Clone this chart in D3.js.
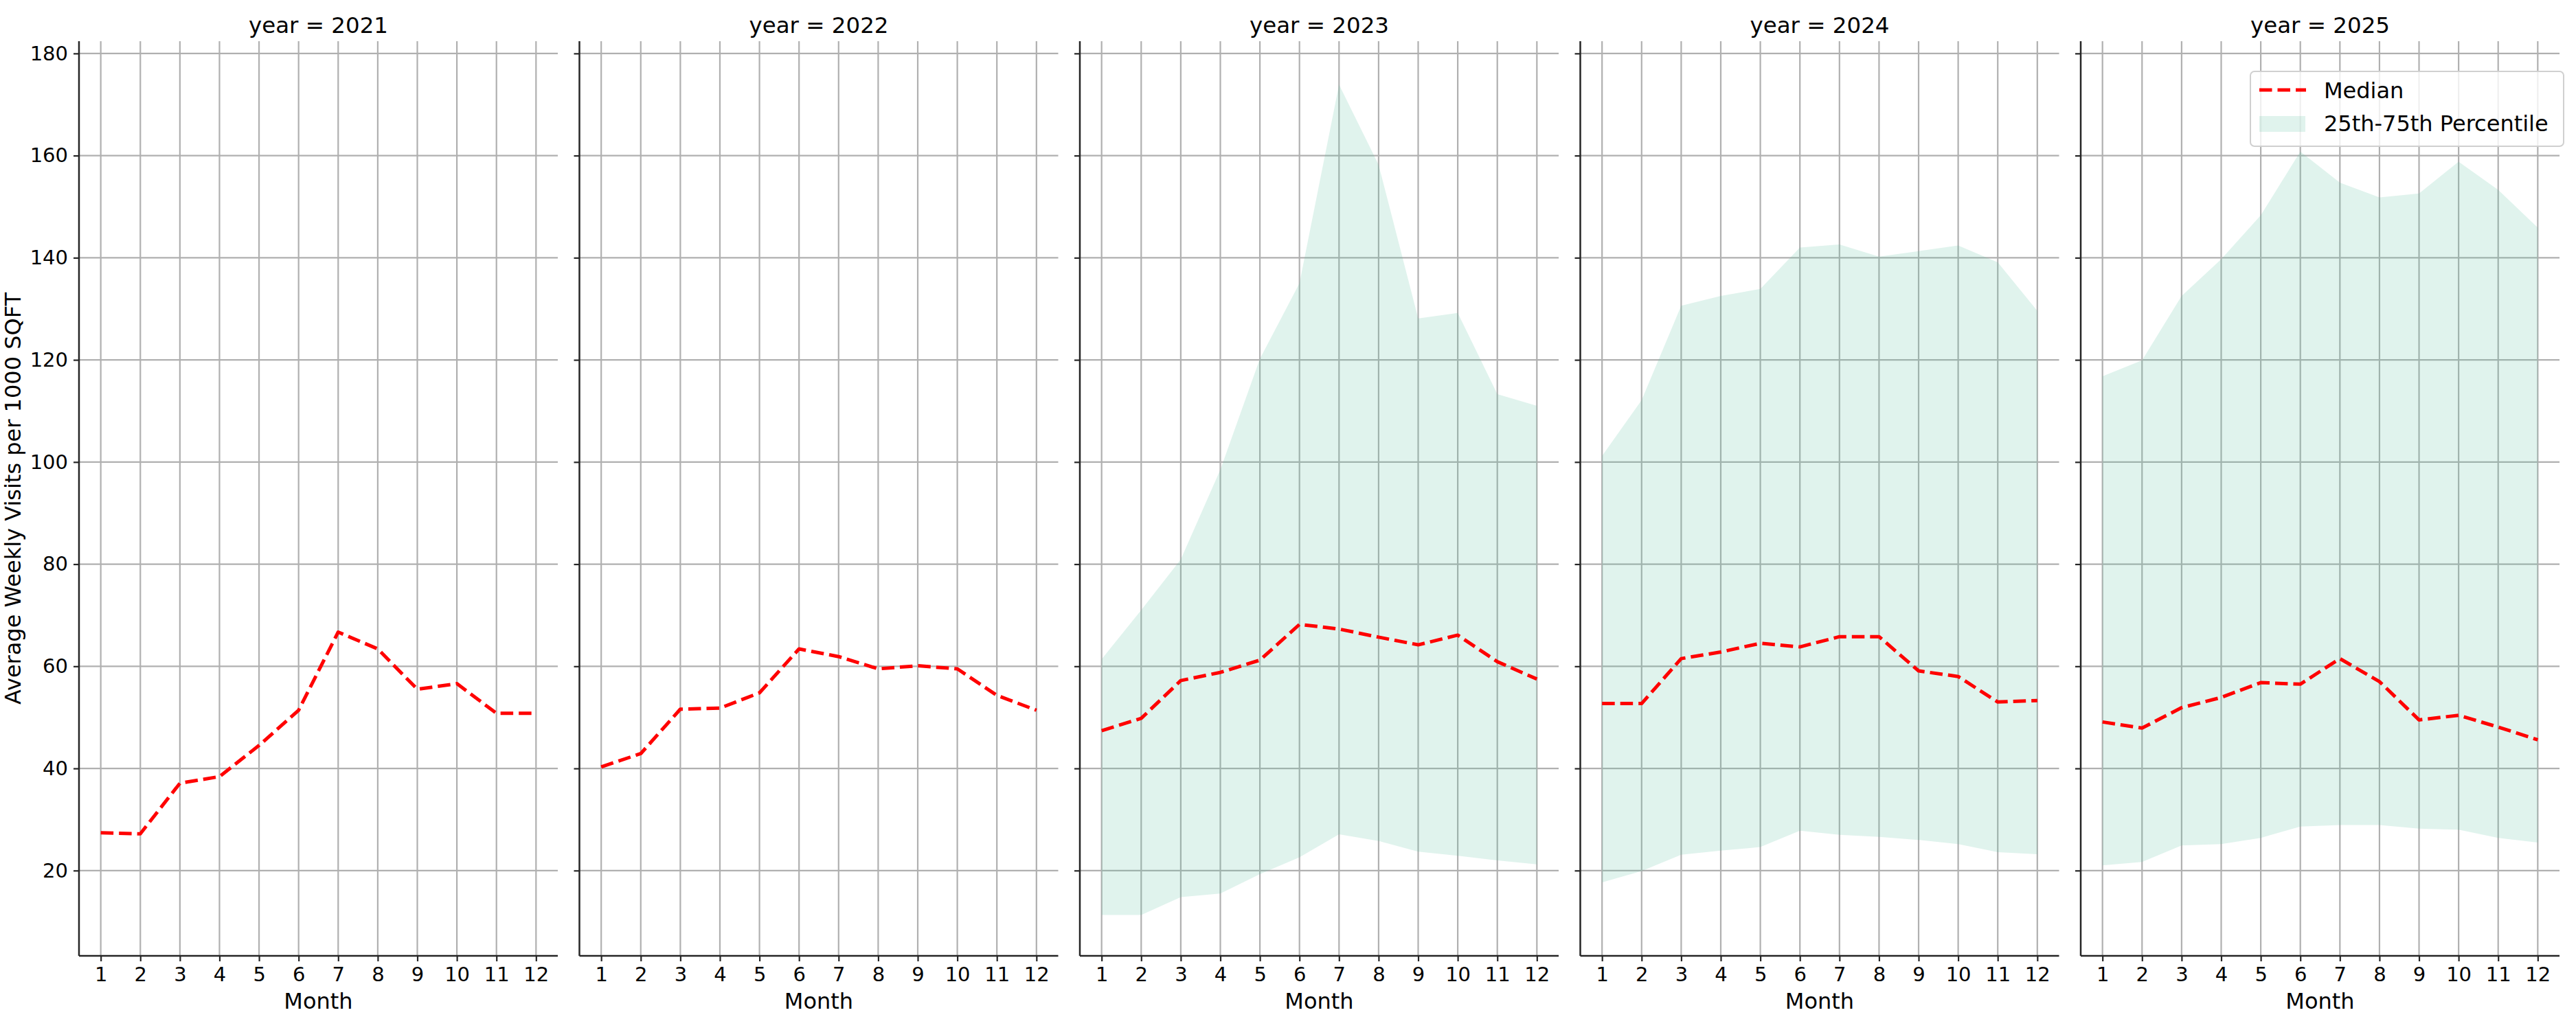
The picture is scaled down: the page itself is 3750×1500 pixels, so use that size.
<!DOCTYPE html>
<html>
<head>
<meta charset="utf-8">
<script src="https://cdn.jsdelivr.net/npm/d3@7"></script>
<style>
  html, body { margin: 0; padding: 0; background: #ffffff; }
  svg { display: block; font-family: "DejaVu Sans", sans-serif; }
</style>
</head>
<body>
<svg id="chart" width="3750" height="1500"></svg>
<script>
// ---------------- data ----------------
const years = [2021, 2022, 2023, 2024, 2025];
const months = [1, 2, 3, 4, 5, 6, 7, 8, 9, 10, 11, 12];
const yTicks = [20, 40, 60, 80, 100, 120, 140, 160, 180];

const median2021 = [27.4, 27.2, 37.1, 38.4, 44.5, 51.4, 66.7, 63.4, 55.5, 56.6, 50.8, 50.8];
const median2022 = [40.3, 42.9, 51.6, 51.8, 54.8, 63.4, 61.9, 59.5, 60.1, 59.5, 54.3, 51.4];
const median2023 = [47.4, 49.8, 57.2, 58.8, 61.2, 68.2, 67.3, 65.7, 64.2, 66.1, 60.9, 57.5];
const median2024 = [52.7, 52.7, 61.5, 62.8, 64.5, 63.8, 65.8, 65.8, 59.1, 58.0, 53.0, 53.3];
const median2025 = [49.1, 47.9, 51.9, 53.9, 56.8, 56.5, 61.5, 57.0, 49.5, 50.4, 48.1, 45.6];

const p25_2023 = [11.3, 11.3, 14.8, 15.5, 19.3, 22.6, 27.1, 25.8, 23.7, 22.9, 22.0, 21.2];
const p75_2023 = [61.4, 71.0, 80.9, 98.5, 120.2, 135.0, 173.9, 158.2, 128.1, 129.2, 113.3, 111.0];
const p25_2024 = [17.7, 19.9, 23.1, 23.9, 24.6, 27.8, 27.0, 26.6, 26.0, 25.2, 23.6, 23.2];
const p75_2024 = [101.2, 112.1, 130.6, 132.5, 133.9, 142.0, 142.6, 140.2, 141.3, 142.4, 139.1, 129.6];
const p25_2025 = [21.0, 21.7, 24.9, 25.2, 26.4, 28.6, 28.9, 28.9, 28.2, 28.0, 26.4, 25.5];
const p75_2025 = [116.8, 119.9, 132.5, 139.7, 148.3, 160.8, 154.7, 151.8, 152.6, 158.8, 153.3, 145.9];

const medians = [median2021, median2022, median2023, median2024, median2025];
const lowers  = [null, null, p25_2023, p25_2024, p25_2025];
const uppers  = [null, null, p75_2023, p75_2024, p75_2025];

const titleLabels = years.map(y => "year = " + y);
const xLabel = "Month";
const yLabel = "Average Weekly Visits per 1000 SQFT";
const legendLabels = ["Median", "25th-75th Percentile"];

// ---------------- layout ----------------
const svg = d3.select("#chart");
const panelLeft0 = 115, panelStep = 728.5, panelW = 697;
const plotTop = 60, plotBottom = 1392;

const yScale = d3.scaleLinear().domain([3.3, 182.4]).range([plotBottom, plotTop]);
const xScale = d3.scaleLinear().domain([0.45, 12.55]).range([0, panelW]);

const gridColor = "#b0b0b0";
const spineColor = "#262626";
const fillColor = "#66c2a5";
const tickFont = 29;
const labelFont = 32;
const titleFont = 32.5;

years.forEach((yr, i) => {
  const g = svg.append("g").attr("transform", `translate(${panelLeft0 + i * panelStep},0)`);

  // grid
  g.append("g").selectAll("line").data(yTicks).join("line")
    .attr("x1", 0).attr("x2", panelW)
    .attr("y1", d => yScale(d)).attr("y2", d => yScale(d))
    .attr("stroke", gridColor).attr("stroke-width", 2.2);
  g.append("g").selectAll("line").data(months).join("line")
    .attr("x1", d => xScale(d)).attr("x2", d => xScale(d))
    .attr("y1", plotTop).attr("y2", plotBottom)
    .attr("stroke", gridColor).attr("stroke-width", 2.2);

  // percentile band
  if (lowers[i]) {
    const band = months.map((m, k) => ({ m, lo: lowers[i][k], hi: uppers[i][k] }));
    const area = d3.area().x(d => xScale(d.m)).y0(d => yScale(d.lo)).y1(d => yScale(d.hi));
    g.append("path").datum(band).attr("d", area)
      .attr("fill", fillColor).attr("fill-opacity", 0.2).attr("stroke", "none");
  }

  // median line
  const pts = months.map((m, k) => ({ m, v: medians[i][k] }));
  const line = d3.line().x(d => xScale(d.m)).y(d => yScale(d.v));
  g.append("path").datum(pts).attr("d", line)
    .attr("fill", "none").attr("stroke", "#ff0000").attr("stroke-width", 5)
    .attr("stroke-dasharray", "18.5,8").attr("stroke-linejoin", "round");

  // x axis
  const xAxis = d3.axisBottom(xScale).tickValues(months).tickSize(8).tickPadding(8).tickFormat(d3.format("d"));
  const gx = g.append("g").attr("transform", `translate(0,${plotBottom})`).call(xAxis);
  gx.select(".domain").attr("stroke", spineColor).attr("stroke-width", 2.5).attr("d", `M0,0H${panelW}`);
  gx.selectAll(".tick line").attr("stroke", spineColor).attr("stroke-width", 2.2);
  gx.selectAll(".tick text").attr("font-size", tickFont).attr("fill", "#000")
    .attr("font-family", "DejaVu Sans");

  // y axis
  const yAxis = d3.axisLeft(yScale).tickValues(yTicks).tickSize(8).tickPadding(8)
    .tickFormat(i === 0 ? d3.format("d") : () => "");
  const gy = g.append("g").call(yAxis);
  gy.select(".domain").attr("stroke", spineColor).attr("stroke-width", 2.5).attr("d", `M0,${plotTop}V${plotBottom}`);
  gy.selectAll(".tick line").attr("stroke", spineColor).attr("stroke-width", 2.2);
  gy.selectAll(".tick text").attr("font-size", tickFont).attr("fill", "#000")
    .attr("font-family", "DejaVu Sans");

  // title
  g.append("text").attr("x", panelW / 2).attr("y", 48)
    .attr("text-anchor", "middle").attr("font-size", titleFont).attr("fill", "#000")
    .text(titleLabels[i]);

  // x label
  g.append("text").attr("x", panelW / 2).attr("y", 1469)
    .attr("text-anchor", "middle").attr("font-size", labelFont).attr("fill", "#000")
    .text(xLabel);
});

// y label
svg.append("text")
  .attr("transform", `translate(30,${(plotTop + plotBottom) / 2}) rotate(-90)`)
  .attr("text-anchor", "middle").attr("font-size", labelFont).attr("fill", "#000")
  .text(yLabel);

// legend
const lg = svg.append("g");
lg.append("rect").attr("x", 3276).attr("y", 104).attr("width", 456).attr("height", 109)
  .attr("rx", 6).attr("ry", 6)
  .attr("fill", "#ffffff").attr("fill-opacity", 0.8)
  .attr("stroke", "#d0d0d0").attr("stroke-width", 2);
lg.append("line").attr("x1", 3289).attr("x2", 3357).attr("y1", 131).attr("y2", 131)
  .attr("stroke", "#ff0000").attr("stroke-width", 5).attr("stroke-dasharray", "18.5,8");
lg.append("rect").attr("x", 3289).attr("y", 169).attr("width", 67).attr("height", 23)
  .attr("fill", fillColor).attr("fill-opacity", 0.2);
lg.append("text").attr("x", 3383).attr("y", 142.5).attr("font-size", labelFont).attr("fill", "#000")
  .text(legendLabels[0]);
lg.append("text").attr("x", 3383).attr("y", 191).attr("font-size", labelFont).attr("fill", "#000")
  .text(legendLabels[1]);
</script>
</body>
</html>
